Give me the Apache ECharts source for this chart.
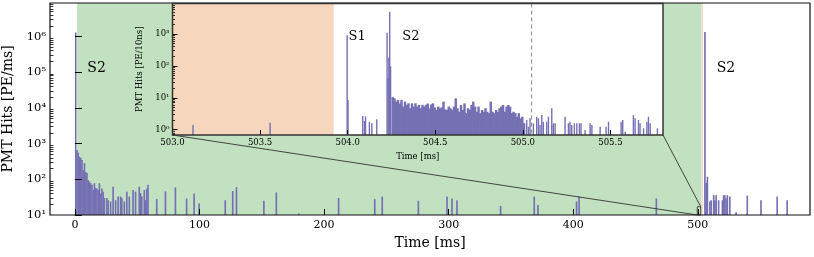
<!DOCTYPE html>
<html><head><meta charset="utf-8">
<script src="https://cdn.jsdelivr.net/npm/echarts@6/dist/echarts.min.js"></script>
<style>html,body{margin:0;padding:0;background:#fff}#c{width:814px;height:257px}</style>
</head><body><div id="c"></div>
<script>
// ---------- DATA ----------
const mainTimes = [0,1,2,3,4,5,6,7,8,9,10,11,12,13,14,15,16,17,18,19,20,21,22,23,25,26,28,30,32,34,36,37,39,41,43,46,48,51,52,53,55,56,57,58,65,72,80,89,95,99,120,126,129,151,161,179,211,240,246,275,298,302,306,341,368,371,402,404,466,
  505,506,507,509,510,512,513,514,516,519,520,521,522,523,525,530,539,550,563,571];
const mainCounts = [1300000,660,560,430,400,350,180,285,160,150,95,86,78,70,50,78,57,55,50,78,40,55,45,30,30,26,24,62,26,33,33,30,24,45,33,50,45,62,41,33,50,26,55,70,28,46,59,29,40,21,26,47,60,25,43,11,30,28,33,25,33,29,26,18,33,19,24,33,29,
  1350000,80,118,24,26,36,26,36,26,26,36,36,29,36,33,12,35,26,33,26];
const mainXTicks = [0,100,200,300,400,500];
const mainYTicks = [10,100,1000,10000,100000,1000000];
const s2Region = [1.8, 503.0];
const preTriggerRegion = [503.0, 503.92];
const mainLabelText = ['S2','S2'];
const mainLabelX = [17.4, 522.5];
const mainLabelY = [130000, 130000];

const insetTailTimes = [504.25,504.26,504.27,504.28,504.29,504.30,504.31,504.32,504.33,504.34,504.35,504.36,504.37,504.38,504.39,504.40,504.41,504.42,504.43,504.44,504.45,504.46,504.47,504.48,504.49,504.50,504.51,504.52,504.53,504.54,504.55,504.56,504.57,504.58,504.59,504.60,504.61,504.62,504.63,504.64,504.65,504.66,504.67,504.68,504.69,504.70,504.71,504.72,504.73,504.74,504.75,504.76,504.77,504.78,504.79,504.80,504.81,504.82,504.83,504.84,504.85,504.86,504.87,504.88,504.89,504.90,504.91,504.92,504.93,504.94,504.95,504.96,504.97,504.98,504.99,505.00];
const insetTailCounts = [10.5,9.7,7.6,8.6,6.7,8.6,5.3,7.6,6.0,6.7,4.7,6.7,5.3,6.7,5.3,6.0,4.7,6.0,5.3,6.0,6.6,4.7,6.2,6.7,5.0,4.2,5.3,4.7,5.0,7.6,4.3,4.2,5.3,4.7,4.2,5.3,9.6,4.7,3.65,5.95,4.15,6.7,3.3,4.7,4.2,6.0,7.6,5.3,3.65,5.3,3.3,4.15,3.65,4.7,3.65,3.3,7.6,3.65,3.3,4.15,3.65,4.7,5.3,5.95,3.65,5.3,5.95,5.3,3.3,3.65,3.3,2.54,3.3,2.27,2.54,1.6];
const insetSparseTimes = [503.113,503.553,503.993,503.998,504.082,504.092,504.098,504.120,504.134,504.162,504.221,504.226,504.231,504.236,504.241,
  505.018,505.028,505.037,505.056,505.075,505.085,505.094,505.104,505.113,505.132,505.142,505.161,505.170,505.180,505.237,505.256,505.265,505.275,505.290,505.304,505.319,505.328,505.351,505.380,505.390,505.437,505.471,505.485,505.557,505.566,505.580,505.627,505.637,505.656,505.665,505.685,505.704,505.713,505.723,505.764];
const insetSparseCounts = [1.40,1.65,915,8.6,2.67,1.87,2.6,1.77,1.58,2.14,1100,40,180,5000,97,
  2.0,1.24,2.27,1.58,2.54,2.27,1.40,2.86,1.77,1.77,2.54,4.7,1.58,1.58,2.54,1.58,1.77,1.40,1.58,1.58,1.58,1.58,0.97,1.58,1.40,1.24,1.24,1.77,1.77,2.0,0.86,2.86,2.27,2.0,1.58,1.10,1.77,2.54,1.58,1.10];
const insetXTicks = [503.0,503.5,504.0,504.5,505.0,505.5];
const insetYTicks = [1,10,100,1000];
const insetMarkerTime = 505.05;
const insetLabelText = ['S1','S2'];
const insetLabelX = [504.054, 504.361];
const insetLabelY = [850, 850];

// ---------- LAYOUT / STYLE ----------
const FONT = 'DejaVu Serif';
const BAR = '#7570b3';
const GREEN = '#c1e1c1';
const ORANGE = '#f6d6bd';
const MAIN_X = [-20, 590], MAIN_Y = [10, 8.7e6];
const INSET_X = [503, 505.8], INSET_Y = [0.68, 9100];
const MAIN_BIN = 1, TAIL_BIN = 0.01, SPARSE_BIN = 0.005;

function minorTicks(lo, hi) {
  const out = [];
  for (let d = Math.floor(Math.log10(lo)); d <= Math.ceil(Math.log10(hi)); d++)
    for (let m = 2; m <= 9; m++) { const v = m * Math.pow(10, d); if (v > lo && v < hi) out.push(v); }
  return out;
}
const SUP = {'-':'⁻','0':'⁰','1':'¹','2':'²','3':'³','4':'⁴','5':'⁵','6':'⁶','7':'⁷','8':'⁸','9':'⁹'};
const pow10 = v => '10' + String(Math.round(Math.log10(v))).split('').map(c => SUP[c]).join('');

// pad: extra pixels added to each bar's width, minW: minimum drawn width in px
function barRender(width, base, pad, minW) {
  return function (params, api) {
    const x0 = api.value(0), v = api.value(1);
    const p0 = api.coord([x0, base]);
    const p1 = api.coord([x0 + width, v]);
    const w = Math.max(p1[0] - p0[0] + pad, minW);
    return {type: 'rect', shape: {x: p0[0], y: p1[1], width: w, height: p0[1] - p1[1]},
      style: {fill: BAR}};
  };
}
function regionSeries(xi, yi, range, yr, color, z) {
  return {type: 'custom', xAxisIndex: xi, yAxisIndex: yi, z: z, silent: true,
    data: [[range[0], range[1]]],
    renderItem: function (params, api) {
      const a = api.coord([api.value(0), yr[1]]);
      const b = api.coord([api.value(1), yr[0]]);
      return {type: 'rect', shape: {x: a[0], y: a[1], width: b[0] - a[0], height: b[1] - a[1]}, style: {fill: color}};
    }};
}
function textSeries(xi, yi, xs, ys, texts, size, z) {
  return {type: 'custom', xAxisIndex: xi, yAxisIndex: yi, z: z, silent: true,
    data: xs.map((x, i) => [x, ys[i], i]),
    renderItem: function (params, api) {
      const p = api.coord([api.value(0), api.value(1)]);
      return {type: 'text', x: p[0], y: p[1],
        style: {text: texts[api.value(2)], fill: '#000', font: size + 'px "' + FONT + '"', align: 'center', verticalAlign: 'middle'}};
    }};
}

const axisCommon = {axisLine: {show: false}, splitLine: {show: false}};

const option = {
  animation: false,
  textStyle: {fontFamily: FONT},
  grid: [
    {left: 50, top: 3, width: 760, height: 212, containLabel: false, outerBoundsMode: 'none'},
    {left: 172.5, top: 3.5, width: 490.5, height: 131.5, show: true, backgroundColor: '#fff', borderWidth: 0, z: 10,
     containLabel: false, outerBoundsMode: 'none'}
  ],
  xAxis: [
    Object.assign({gridIndex: 0, type: 'value', min: MAIN_X[0], max: MAIN_X[1], z: 5,
      axisTick: {inside: true, length: 6, customValues: mainXTicks, lineStyle: {color: '#000', width: 1}},
      axisLabel: {customValues: mainXTicks, fontSize: 11, color: '#000', margin: 5},
      name: 'Time [ms]', nameLocation: 'middle', nameGap: 20, nameTextStyle: {fontSize: 14, color: '#000'}}, axisCommon),
    Object.assign({gridIndex: 1, type: 'value', min: INSET_X[0], max: INSET_X[1], z: 13,
      axisTick: {inside: true, length: 5, customValues: insetXTicks, lineStyle: {color: '#000', width: 1}},
      axisLabel: {customValues: insetXTicks, fontSize: 8.5, color: '#000', margin: 3, formatter: v => v.toFixed(1)},
      name: 'Time [ms]', nameLocation: 'middle', nameGap: 11, nameTextStyle: {fontSize: 8.5, color: '#000'}}, axisCommon)
  ],
  yAxis: [
    Object.assign({gridIndex: 0, type: 'log', logBase: 10, position: 'left', min: MAIN_Y[0], max: MAIN_Y[1], z: 5,
      axisTick: {inside: true, length: 7, customValues: mainYTicks, lineStyle: {color: '#000', width: 1}},
      axisLabel: {customValues: mainYTicks, fontSize: 11.5, color: '#000', margin: 4, formatter: pow10},
      name: 'PMT Hits [PE/ms]', nameLocation: 'middle', nameGap: 34, nameTextStyle: {fontSize: 14, color: '#000'}}, axisCommon),
    Object.assign({gridIndex: 0, type: 'log', logBase: 10, position: 'left', min: MAIN_Y[0], max: MAIN_Y[1], z: 5,
      axisTick: {inside: true, length: 3.5, customValues: minorTicks(MAIN_Y[0], MAIN_Y[1]), lineStyle: {color: '#000', width: 0.8}},
      axisLabel: {show: false}}, axisCommon),
    Object.assign({gridIndex: 1, type: 'log', logBase: 10, position: 'left', min: INSET_Y[0], max: INSET_Y[1], z: 13,
      axisTick: {inside: true, length: 5, customValues: insetYTicks, lineStyle: {color: '#000', width: 1}},
      axisLabel: {customValues: insetYTicks, fontSize: 8.5, color: '#000', margin: 3, formatter: pow10},
      name: 'PMT Hits [PE/10ns]', nameLocation: 'middle', nameGap: 16, nameTextStyle: {fontSize: 8.5, color: '#000'}}, axisCommon),
    Object.assign({gridIndex: 1, type: 'log', logBase: 10, position: 'left', min: INSET_Y[0], max: INSET_Y[1], z: 13,
      axisTick: {inside: true, length: 2.5, customValues: minorTicks(INSET_Y[0], INSET_Y[1]), lineStyle: {color: '#000', width: 0.8}},
      axisLabel: {show: false}}, axisCommon)
  ],
  series: [
    regionSeries(0, 0, s2Region, MAIN_Y, GREEN, 1),
    regionSeries(0, 0, preTriggerRegion, MAIN_Y, ORANGE, 1),
    {type: 'custom', xAxisIndex: 0, yAxisIndex: 0, z: 3, silent: true,
     data: mainTimes.map((t, i) => [t, mainCounts[i]]), renderItem: barRender(MAIN_BIN, MAIN_Y[0], 0.4, 1.6)},
    textSeries(0, 0, mainLabelX, mainLabelY, mainLabelText, 14, 6),
    regionSeries(1, 2, preTriggerRegion, INSET_Y, ORANGE, 11),
    {type: 'custom', xAxisIndex: 1, yAxisIndex: 2, z: 12, silent: true,
     data: insetTailTimes.map((t, i) => [t, insetTailCounts[i]]), renderItem: barRender(TAIL_BIN, INSET_Y[0], 0.7, 1)},
    {type: 'custom', xAxisIndex: 1, yAxisIndex: 2, z: 12, silent: true,
     data: insetSparseTimes.map((t, i) => [t, insetSparseCounts[i]]), renderItem: barRender(SPARSE_BIN, INSET_Y[0], 0.3, 1.4)},
    {type: 'custom', xAxisIndex: 1, yAxisIndex: 2, z: 12, silent: true, data: [[insetMarkerTime, 1]],
     renderItem: function (params, api) {
       const a = api.coord([api.value(0), INSET_Y[1]]), b = api.coord([api.value(0), INSET_Y[0]]);
       return {type: 'line', shape: {x1: a[0], y1: a[1], x2: b[0], y2: b[1]},
         style: {stroke: '#888', lineWidth: 1, lineDash: [4, 3]}};
     }},
    textSeries(1, 2, insetLabelX, insetLabelY, insetLabelText, 13, 14)
  ]
};

const chart = echarts.init(document.getElementById('c'), null, {renderer: 'canvas'});
chart.setOption(option);

// frames and inset connectors, positioned through the axes' own scales
const mA = {xAxisIndex: 0, yAxisIndex: 0}, iA = {xAxisIndex: 1, yAxisIndex: 2};
const mTL = chart.convertToPixel(mA, [MAIN_X[0], MAIN_Y[1]]), mBR = chart.convertToPixel(mA, [MAIN_X[1], MAIN_Y[0]]);
const iTL = chart.convertToPixel(iA, [INSET_X[0], INSET_Y[1]]), iBR = chart.convertToPixel(iA, [INSET_X[1], INSET_Y[0]]);
const zoomBox = [499.5, 502.3, 10, 17];
const zA = chart.convertToPixel(mA, [zoomBox[0], zoomBox[2]]);
const zB = chart.convertToPixel(mA, [zoomBox[1], zoomBox[3]]);
chart.setOption({graphic: {elements: [
  {type: 'line', z: 4, silent: true, shape: {x1: iTL[0], y1: iBR[1], x2: zA[0], y2: zA[1]}, style: {stroke: '#333', lineWidth: 0.9}},
  {type: 'line', z: 4, silent: true, shape: {x1: iBR[0], y1: iBR[1], x2: zB[0], y2: zB[1]}, style: {stroke: '#333', lineWidth: 0.9}},
  {type: 'rect', z: 4, silent: true, shape: {x: zA[0], y: zB[1], width: zB[0] - zA[0], height: zA[1] - zB[1]}, style: {fill: null, stroke: '#333', lineWidth: 0.9}},
  {type: 'rect', z: 50, silent: true, shape: {x: mTL[0], y: mTL[1], width: mBR[0] - mTL[0], height: mBR[1] - mTL[1]}, style: {fill: null, stroke: '#111', lineWidth: 1.2}},
  {type: 'rect', z: 50, silent: true, shape: {x: iTL[0], y: iTL[1], width: iBR[0] - iTL[0], height: iBR[1] - iTL[1]}, style: {fill: null, stroke: '#333', lineWidth: 1.5}}
]}});
</script></body></html>
